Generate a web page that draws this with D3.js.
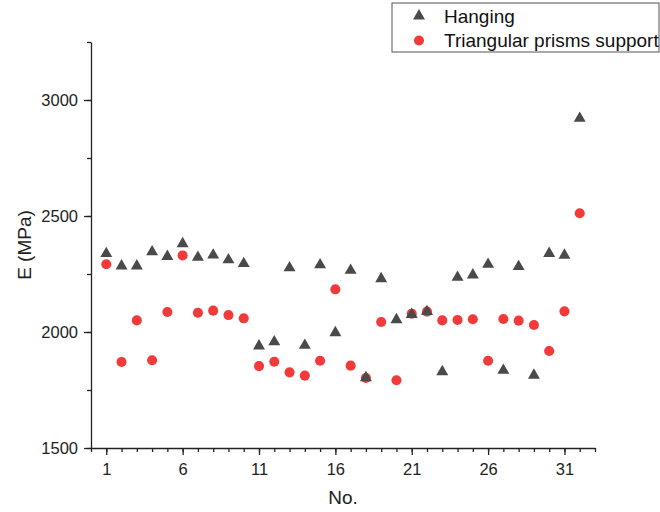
<!DOCTYPE html>
<html>
<head>
<meta charset="utf-8">
<script src="https://cdn.jsdelivr.net/npm/d3@7"></script>
<style>
  body { margin: 0; background: #fff; }
  svg { display: block; font-family: "Liberation Sans", Arial, sans-serif; }
</style>
</head>
<body>
<div id="chart"></div>
<script>
// specimen numbers
const specimens = d3.range(1, 33);

// E (MPa), hanging test
const hanging = [2342, 2289, 2289, 2350, 2330, 2385, 2326, 2336, 2315, 2299,
                 1944, 1962, 2281, 1947, 2294, 2001, 2270, 1807, 2234, 2057,
                 2080, 2092, 1833, 2240, 2250, 2296, 1839, 2286, 1818, 2343,
                 2335, 2925];

// E (MPa), triangular prisms support
const prisms = [2292, 1871, 2050, 1878, 2086, 2330, 2083, 2092, 2073, 2059,
                1853, 1872, 1826, 1812, 1876, 2184, 1855, 1802, 2043, 1792,
                2079, 2088, 2050, 2052, 2055, 1876, 2056, 2049, 2030, 1918,
                2089, 2512];

const xTicks = [1, 6, 11, 16, 21, 26, 31];
const yTicks = [1500, 2000, 2500, 3000];
const seriesNames = ['Hanging', 'Triangular prisms support'];

const W = 660, H = 512;
const margin = { top: 42, right: 65, bottom: 64, left: 91 };
const width = W - margin.left - margin.right;
const height = H - margin.top - margin.bottom;

const svg = d3.select('#chart').append('svg')
    .attr('width', W)
    .attr('height', H);

const g = svg.append('g')
    .attr('transform', `translate(${margin.left},${margin.top})`);

const x = d3.scaleLinear().domain([0, 33]).range([0, width]);
const y = d3.scaleLinear().domain([1500, 3250]).range([height, 0]);

// x axis: minor ticks every 1, labels every 5
g.append('g')
    .attr('transform', `translate(0,${height})`)
    .call(d3.axisBottom(x).tickValues(d3.range(0, 34)).tickSize(4).tickFormat(''))
    .call(a => a.select('.domain').remove());

g.append('g')
    .attr('class', 'xaxis')
    .attr('transform', `translate(0,${height})`)
    .call(d3.axisBottom(x).tickValues(xTicks).tickSize(7).tickSizeOuter(0).tickPadding(8).tickFormat(d3.format('d')));

// y axis: minor ticks every 250
g.append('g')
    .call(d3.axisLeft(y).tickValues(d3.range(1500, 3251, 250)).tickSize(4).tickFormat(''))
    .call(a => a.select('.domain').remove());

g.append('g')
    .attr('class', 'yaxis')
    .call(d3.axisLeft(y).tickValues(yTicks).tickSize(7).tickSizeOuter(0).tickPadding(6).tickFormat(d3.format('d')));

g.selectAll('.tick line, .domain').attr('stroke', '#222').attr('stroke-width', 1.3);
g.selectAll('.xaxis text, .yaxis text')
    .style('font-size', '16.5px')
    .style('font-family', '"Liberation Sans", Arial, sans-serif')
    .attr('fill', '#222');

// axis titles
g.append('text')
    .attr('x', x(16.5))
    .attr('y', height + 56)
    .attr('text-anchor', 'middle')
    .style('font-size', '19px')
    .attr('fill', '#222')
    .text('No.');

g.append('text')
    .attr('transform', `translate(${-60},${y(2375)}) rotate(-90)`)
    .attr('text-anchor', 'middle')
    .style('font-size', '19px')
    .attr('fill', '#222')
    .text('E (MPa)');

const tri = d3.symbol().type(d3.symbolTriangle).size(62);
const dot = d3.symbol().type(d3.symbolCircle).size(80);

// circles drawn first, triangles on top
g.selectAll('.prism')
    .data(prisms)
    .enter()
    .append('path')
    .attr('class', 'prism')
    .attr('d', dot)
    .attr('transform', (d, i) => `translate(${x(specimens[i])},${y(d)})`)
    .attr('fill', '#f23a3a');

g.selectAll('.hang')
    .data(hanging)
    .enter()
    .append('path')
    .attr('class', 'hang')
    .attr('d', tri)
    .attr('transform', (d, i) => `translate(${x(specimens[i])},${y(d) + 1})`)
    .attr('fill', '#4a4a4a');

// legend
const lg = svg.append('g').attr('transform', 'translate(392,3)');
lg.append('rect')
    .attr('width', 267)
    .attr('height', 49)
    .attr('fill', '#fff')
    .attr('stroke', '#555')
    .attr('stroke-width', 1);

lg.append('path').attr('d', tri).attr('transform', 'translate(27,13)').attr('fill', '#4a4a4a');
lg.append('path').attr('d', dot).attr('transform', 'translate(27,37.5)').attr('fill', '#f23a3a');

lg.selectAll('.lt')
    .data(seriesNames)
    .enter()
    .append('text')
    .attr('class', 'lt')
    .attr('x', 52)
    .attr('y', (d, i) => 19.7 + i * 24)
    .style('font-size', '19px')
    .attr('fill', '#111')
    .text(d => d);
</script>
</body>
</html>
